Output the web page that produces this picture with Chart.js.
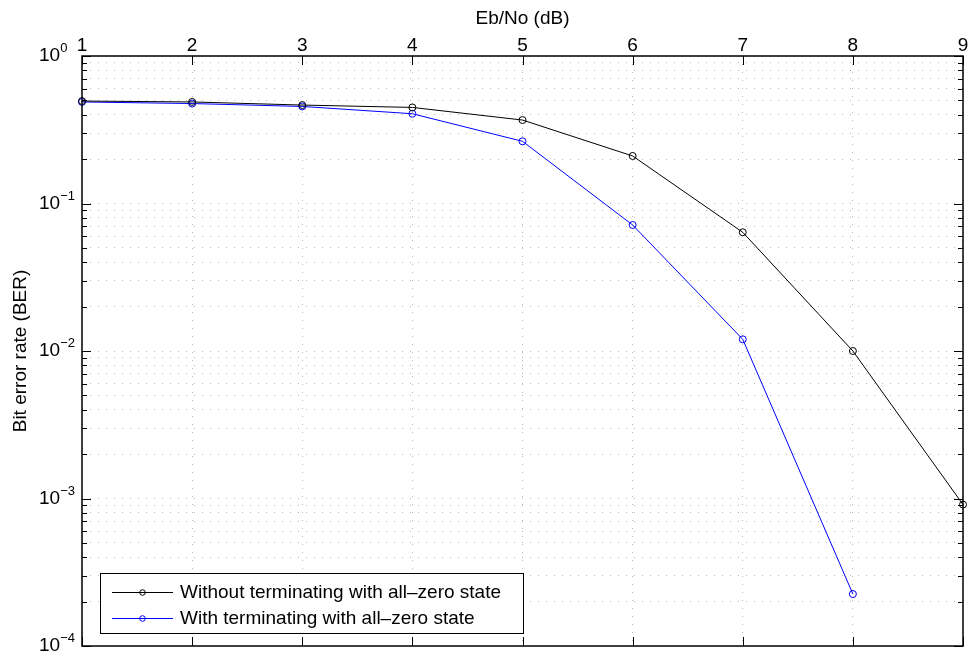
<!DOCTYPE html>
<html>
<head>
<meta charset="utf-8">
<script src="https://cdn.jsdelivr.net/npm/chart.js@4.4.0/dist/chart.umd.min.js"></script>
<style>
  html, body { margin: 0; padding: 0; background: #fff; }
</style>
</head>
<body>
<canvas id="berChart" width="968" height="657"></canvas>
<script>
// Eb/No points (dB)
const ebNo = [1, 2, 3, 4, 5, 6, 7, 8, 9];
// BER without terminating with all-zero state
const berWithout = [0.495, 0.488, 0.465, 0.448, 0.368, 0.210, 0.0638, 0.0100, 0.00091];
// BER with terminating with all-zero state (no point at 9 dB)
const berWith = [0.488, 0.476, 0.455, 0.406, 0.264, 0.0715, 0.0120, 0.000225];
const xTickLabels = ['1', '2', '3', '4', '5', '6', '7', '8', '9'];
const yDecadeExps = [-4, -3, -2, -1, 0];
const seriesLabels = ['Without terminating with all\u2013zero state', 'With terminating with all\u2013zero state'];
const seriesColors = ['#000000', '#0000ff'];

const FONT = '"Liberation Sans", Arial, Helvetica, sans-serif';

// log grid values: 1..9 x 10^d for every decade
const yGridValues = [];
yDecadeExps.forEach(d => {
  if (d === 0) { yGridValues.push(1); return; }
  for (let m = 1; m < 10; m++) yGridValues.push(m * Math.pow(10, d));
});

//draws frame, inward ticks, labels, titles and legend like matlab
const matlabFrame = {
  id: 'matlabFrame',
  beforeDraw(chart) {
    const ctx = chart.ctx;
    ctx.save();
    ctx.fillStyle = '#fff';
    ctx.fillRect(0, 0, chart.width, chart.height);
    ctx.restore();
  },
  afterDraw(chart) {
    const ctx = chart.ctx;
    const { left, right, top, bottom } = chart.chartArea;
    const xs = chart.scales.x;
    const ys = chart.scales.y;
    ctx.save();
    ctx.strokeStyle = '#000';
    ctx.lineWidth = 1;

    // inward ticks on all 4 sides
    ctx.beginPath();
    ebNo.forEach(v => {
      const px = Math.round(xs.getPixelForValue(v)) + 0.5;
      ctx.moveTo(px, top); ctx.lineTo(px, top + 9);
      ctx.moveTo(px, bottom); ctx.lineTo(px, bottom - 9);
    });
    yGridValues.forEach(v => {
      const py = Math.round(ys.getPixelForValue(v)) + 0.5;
      const major = Math.abs(Math.log10(v) - Math.round(Math.log10(v))) < 1e-9;
      const len = major ? 9 : 5;
      ctx.moveTo(left, py); ctx.lineTo(left + len, py);
      ctx.moveTo(right, py); ctx.lineTo(right - len, py);
    });
    ctx.stroke();

    // box
    ctx.lineWidth = 1.5;
    ctx.strokeRect(Math.round(left), Math.round(top), Math.round(right - left), Math.round(bottom - top));

    // x tick labels on top
    ctx.fillStyle = '#000';
    ctx.font = '19px ' + FONT;
    ctx.textAlign = 'center';
    ctx.textBaseline = 'alphabetic';
    ebNo.forEach((v, i) => {
      ctx.fillText(xTickLabels[i], xs.getPixelForValue(v), top - 5);
    });

    // y tick labels 10^d
    yDecadeExps.forEach(d => {
      const py = ys.getPixelForValue(Math.pow(10, d));
      ctx.textAlign = 'left';
      ctx.font = '19px ' + FONT;
      ctx.fillText('10', 39, py + 5);
      const w = ctx.measureText('10').width;
      ctx.font = '13px ' + FONT;
      ctx.fillText(d < 0 ? '\u2212' + (-d) : String(d), 39 + w, py - 4);
    });

    // axis titles
    ctx.font = '19px ' + FONT;
    ctx.textAlign = 'center';
    ctx.fillText('Eb/No (dB)', (left + right) / 2, 24);
    ctx.save();
    ctx.translate(26, (top + bottom) / 2);
    ctx.rotate(-Math.PI / 2);
    ctx.fillText('Bit error rate (BER)', 0, 0);
    ctx.restore();

    // legend box
    const lx = 100, ly = 573, lw = 423, lh = 60;
    ctx.fillStyle = '#fff';
    ctx.fillRect(lx, ly, lw, lh);
    ctx.lineWidth = 1;
    ctx.strokeStyle = '#000';
    ctx.strokeRect(lx + 0.5, ly + 0.5, lw, lh);
    const rows = [592, 618];
    seriesLabels.forEach((lab, i) => {
      const ry = rows[i] + 0.5;
      ctx.strokeStyle = seriesColors[i];
      ctx.beginPath();
      ctx.moveTo(112, ry); ctx.lineTo(173, ry);
      ctx.stroke();
      ctx.beginPath();
      ctx.arc(142.5, ry, 2.8, 0, Math.PI * 2);
      ctx.stroke();
      ctx.fillStyle = '#000';
      ctx.font = '19px ' + FONT;
      ctx.textAlign = 'left';
      ctx.textBaseline = 'middle';
      ctx.fillText(lab, 180, rows[i] + 1);
    });
    ctx.restore();
  }
};

const gridColor = '#b8b8b8';

new Chart(document.getElementById('berChart'), {
  type: 'line',
  data: {
    datasets: [
      {
        label: seriesLabels[0],
        data: berWithout.map((v, i) => ({ x: ebNo[i], y: v })),
        borderColor: seriesColors[0],
        pointBorderColor: seriesColors[0],
      },
      {
        label: seriesLabels[1],
        data: berWith.map((v, i) => ({ x: ebNo[i], y: v })),
        borderColor: seriesColors[1],
        pointBorderColor: seriesColors[1],
      }
    ].map(ds => Object.assign(ds, {
      borderWidth: 1,
      pointRadius: 3.5,
      pointBorderWidth: 1,
      pointBackgroundColor: 'rgba(0,0,0,0)',
      pointStyle: 'circle',
      tension: 0,
      fill: false,
      clip: false,
    }))
  },
  options: {
    responsive: false,
    animation: false,
    events: [],
    layout: { padding: { left: 0, top: 0, right: 3, bottom: 11 } },
    plugins: { legend: { display: false }, tooltip: { enabled: false } },
    scales: {
      x: {
        type: 'linear',
        position: 'top',
        min: 1,
        max: 9,
        ticks: { display: false, stepSize: 1 },
        grid: { color: gridColor, lineWidth: 1, drawTicks: false },
        border: { display: false, dash: [1, 7] },
        afterFit: (s) => { s.height = 56; },
      },
      y: {
        type: 'logarithmic',
        min: 1e-4,
        max: 1,
        ticks: { display: false },
        afterBuildTicks: (s) => { s.ticks = yGridValues.map(v => ({ value: v })); },
        grid: { color: gridColor, lineWidth: 1, drawTicks: false },
        border: { display: false, dash: [1, 7] },
        afterFit: (s) => { s.width = 82; },
      }
    }
  },
  plugins: [matlabFrame]
});
</script>
</body>
</html>
